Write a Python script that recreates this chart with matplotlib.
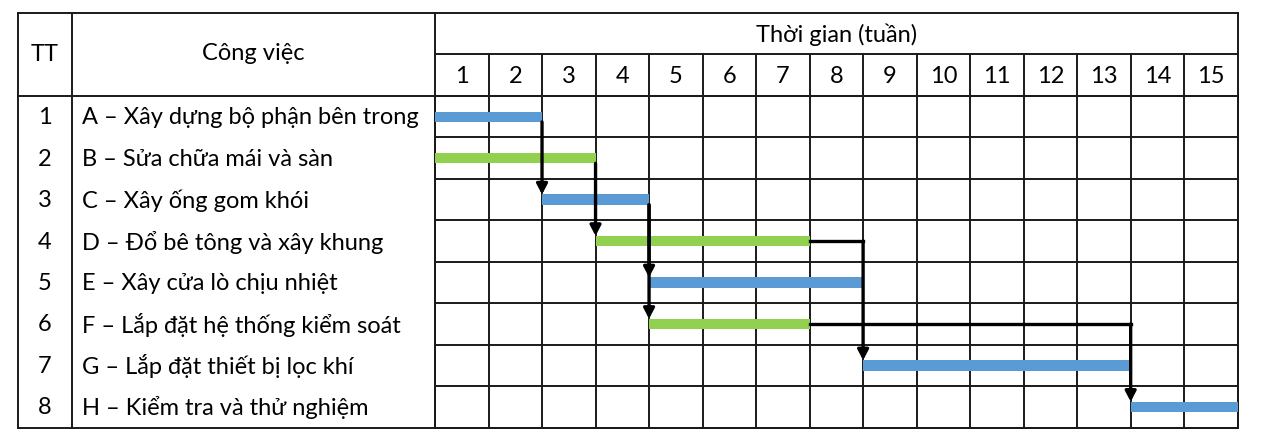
import matplotlib
matplotlib.use("Agg")
import matplotlib.pyplot as plt

# ---- data ----
tt_numbers = ["1", "2", "3", "4", "5", "6", "7", "8"]
task_ids = ["A", "B", "C", "D", "E", "F", "G", "H"]
task_names = [
    "A – Xây dựng bộ phận bên trong",
    "B – Sửa chữa mái và sàn",
    "C – Xây ống gom khói",
    "D – Đổ bê tông và xây khung",
    "E – Xây cửa lò chịu nhiệt",
    "F – Lắp đặt hệ thống kiểm soát",
    "G – Lắp đặt thiết bị lọc khí",
    "H – Kiểm tra và thử nghiệm",
]
start_week = [0, 0, 2, 3, 4, 4, 8, 13]
duration_weeks = [2, 3, 2, 4, 4, 3, 5, 2]
dependencies = [("A", "C"), ("B", "D"), ("C", "E"), ("C", "F"), ("D", "G"), ("F", "H")]
week_labels = [str(i) for i in range(1, 16)]
header_tt = "TT"
header_task = "Công việc"
header_time = "Thời gian (tuần)"

# ---- style ----
BLUE = "#5B9BD5"
GREEN = "#92D050"
bar_colors = [BLUE, GREEN, BLUE, GREEN, BLUE, GREEN, BLUE, BLUE]
GRID = "#1a1a1a"
FONT = ["Lato", "Noto Sans", "DejaVu Sans"]
FS = 17

W, H = 1266, 443
fig = plt.figure(figsize=(W / 100, H / 100), dpi=100)

# pixel layout of the table
L, C1, C2, R = 18, 72, 435, 1237.7
T, Y1, Y2, B = 13, 54, 96, 427.6

axf = fig.add_axes([0, 0, 1, 1])
axf.set_xlim(0, W)
axf.set_ylim(H, 0)
axf.axis("off")

lw_grid = 1.4
def hline(y, x0, x1):
    axf.plot([x0, x1], [y, y], color=GRID, lw=lw_grid, solid_capstyle="projecting")
def vline(x, y0, y1):
    axf.plot([x, x], [y0, y1], color=GRID, lw=lw_grid, solid_capstyle="projecting")

hline(T, L, R)
hline(Y1, C2, R)
hline(Y2, L, R)
hline(B, L, R)
vline(L, T, B)
vline(C1, T, B)
vline(C2, T, B)
vline(R, T, B)

axf.text((L + C1) / 2, (T + Y2) / 2, header_tt, ha="center", va="center",
         fontsize=FS, family=FONT)
axf.text((C1 + C2) / 2, (T + Y2) / 2 - 1, header_task, ha="center", va="center",
         fontsize=FS, family=FONT)
axf.text((C2 + R) / 2, (T + Y1) / 2 + 1, header_time, ha="center", va="center",
         fontsize=FS, family=FONT)

# gantt axes covering the week area
ax = fig.add_axes([C2 / W, 1 - B / H, (R - C2) / W, (B - Y2) / H])
n_weeks = len(week_labels)
n_tasks = len(task_names)
ax.set_xlim(0, n_weeks)
ax.set_ylim(n_tasks, 0)
ax.axis("off")

for i in range(n_weeks + 1):
    ax.plot([i, i], [0, n_tasks], color=GRID, lw=lw_grid, clip_on=False)
for j in range(n_tasks + 1):
    ax.plot([0, n_weeks], [j, j], color=GRID, lw=lw_grid, clip_on=False)
for i in range(1, n_weeks):
    x_pix = C2 + (R - C2) * i / n_weeks
    vline(x_pix, Y1, Y2)
for i, lab in enumerate(week_labels):
    x_pix = C2 + (R - C2) * (i + 0.5) / n_weeks
    axf.text(x_pix, (Y1 + Y2) / 2 + 1, lab, ha="center", va="center",
             fontsize=FS, family=FONT)

row_h = (B - Y2) / n_tasks
for j in range(n_tasks):
    yc = Y2 + row_h * (j + 0.5) + 1
    axf.text((L + C1) / 2, yc, tt_numbers[j], ha="center", va="center",
             fontsize=FS, family=FONT)
    axf.text(C1 + 10, yc, task_names[j], ha="left", va="center",
             fontsize=FS, family=FONT)

# bars (row centres at j + 0.5)
bar_h = 0.25
rows = [j + 0.5 for j in range(n_tasks)]
ax.barh(rows, duration_weeks, left=start_week, height=bar_h,
        color=bar_colors, zorder=3)

# dependency arrows
idx = {t: k for k, t in enumerate(task_ids)}
lw_arrow = 2.4
for a, b in dependencies:
    ia, ib = idx[a], idx[b]
    x_end = start_week[ia] + duration_weeks[ia]
    x_start = start_week[ib]
    y_target = rows[ib] - bar_h / 2
    if x_end == x_start:
        y0 = rows[ia] + bar_h / 2
        x_v = x_end
    else:
        y0 = rows[ia]
        ax.plot([x_end, x_start], [y0, y0], color="black", lw=lw_arrow,
                zorder=4, solid_capstyle="projecting")
        x_v = x_start
    ax.annotate("", xy=(x_v, y_target), xytext=(x_v, y0),
                arrowprops=dict(arrowstyle="-|>,head_width=0.2,head_length=0.38",
                                color="black", lw=lw_arrow, shrinkA=0, shrinkB=0,
                                mutation_scale=16),
                zorder=4)

fig.savefig("out.png", dpi=100)
